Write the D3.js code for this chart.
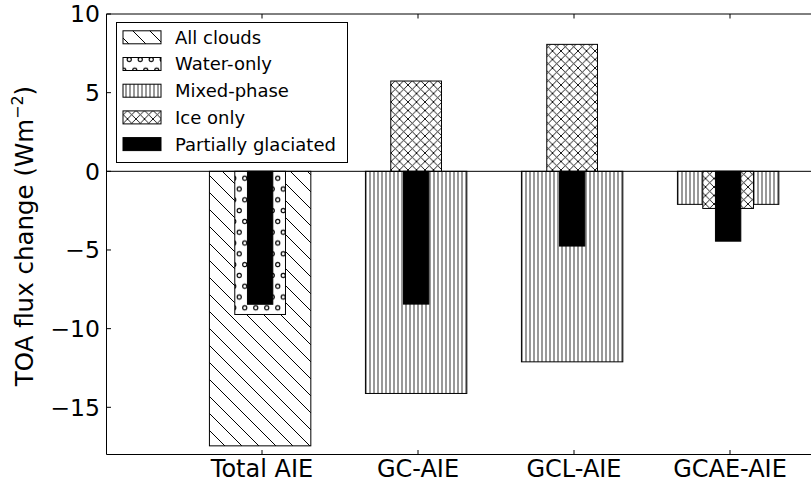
<!DOCTYPE html>
<html>
<head>
<meta charset="utf-8">
<script src="https://cdn.jsdelivr.net/npm/d3@7"></script>
<style>
  html, body { margin: 0; padding: 0; background: #fff; overflow: hidden; }
  svg { display: block; font-family: "DejaVu Sans", sans-serif; }
</style>
</head>
<body>
<svg id="chart" width="811" height="488"></svg>
<script>
// ---- data ----
const categories = ["Total AIE", "GC-AIE", "GCL-AIE", "GCAE-AIE"];
const allClouds = [-17.45, null, null, null];
const waterOnly = [-9.1, null, null, null];
const mixedPhase = [null, -14.12, -12.11, -2.1];
const iceOnly = [null, 5.74, 8.07, -2.36];
const partiallyGlaciated = [-8.45, -8.44, -4.75, -4.44];
const yTicks = [-15, -10, -5, 0, 5, 10];
const legendLabels = ["All clouds", "Water-only", "Mixed-phase", "Ice only", "Partially glaciated"];

// ---- layout ----
const W = 811, H = 488;
const plotLeft = 106.5, plotTop = 14, plotBottom = 454.5;
const svg = d3.select("#chart");

const x = d3.scaleLinear().domain([0, 5]).range([106, 886]);
const y = d3.scaleLinear().domain([-18, 10]).range([plotBottom, plotTop]);

// ---- patterns ----
const defs = svg.append("defs");
// diagonal "\"
const pDiag = defs.append("pattern").attr("id", "pDiag").attr("patternUnits", "userSpaceOnUse")
  .attr("width", 17).attr("height", 17);
pDiag.append("rect").attr("width", 17).attr("height", 17).attr("fill", "#fff");
pDiag.append("path").attr("d", "M-4.25,12.75L4.25,21.25M0,0L17,17M12.75,-4.25L21.25,4.25")
  .attr("stroke", "#000").attr("stroke-width", 1);
// vertical lines
const pVert = defs.append("pattern").attr("id", "pVert").attr("patternUnits", "userSpaceOnUse")
  .attr("width", 4).attr("height", 10);
pVert.append("rect").attr("width", 4).attr("height", 10).attr("fill", "#fff");
pVert.append("path").attr("d", "M2,0V10").attr("stroke", "#333").attr("stroke-width", 1);
// cross hatch
const cs = 8.5;
const pCross = defs.append("pattern").attr("id", "pCross").attr("patternUnits", "userSpaceOnUse")
  .attr("width", cs).attr("height", cs);
pCross.append("rect").attr("width", cs).attr("height", cs).attr("fill", "#fff");
pCross.append("path").attr("d", `M0,0L${cs},${cs}M0,${cs}L${cs},0M${-cs/4},${cs*3/4}L${cs/4},${cs*5/4}M${cs*3/4},${-cs/4}L${cs*5/4},${cs/4}M${-cs/4},${cs/4}L${cs/4},${-cs/4}M${cs*3/4},${cs*5/4}L${cs*5/4},${cs*3/4}`)
  .attr("stroke", "#000").attr("stroke-width", 0.9);
// circles
const pCirc = defs.append("pattern").attr("id", "pCirc").attr("patternUnits", "userSpaceOnUse")
  .attr("width", 11).attr("height", 21.6);
pCirc.append("rect").attr("width", 11).attr("height", 21.6).attr("fill", "#fff");
[[2.75, 5.4], [8.25, 16.2]].forEach(([cx, cy]) => {
  pCirc.append("circle").attr("cx", cx).attr("cy", cy).attr("r", 2.1)
    .attr("fill", "none").attr("stroke", "#000").attr("stroke-width", 1.1);
});

// ---- series ----
const series = [
  { name: "All clouds", values: allClouds, width: 0.65, fill: "url(#pDiag)" },
  { name: "Mixed-phase", values: mixedPhase, width: 0.65, fill: "url(#pVert)" },
  { name: "Water-only", values: waterOnly, width: 0.325, fill: "url(#pCirc)" },
  { name: "Ice only", values: iceOnly, width: 0.325, fill: "url(#pCross)" },
  { name: "Partially glaciated", values: partiallyGlaciated, width: 0.1625, fill: "#000" }
];
const offset = -0.012;

const gBars = svg.append("g");
series.forEach(s => {
  const data = s.values.map((v, i) => ({ v, i })).filter(d => d.v !== null);
  gBars.selectAll(null).data(data).enter().append("rect")
    .attr("x", d => x(d.i + 1 + offset - s.width / 2))
    .attr("width", d => x(s.width) - x(0))
    .attr("y", d => y(Math.max(0, d.v)))
    .attr("height", d => Math.abs(y(d.v) - y(0)))
    .attr("fill", s.fill)
    .attr("stroke", "#000").attr("stroke-width", 1);
});

// zero line
svg.append("line").attr("x1", plotLeft).attr("x2", W).attr("y1", y(0)).attr("y2", y(0))
  .attr("stroke", "#000").attr("stroke-width", 1);

// ---- frame ----
svg.append("path").attr("d", `M${W + 5},${plotTop}H${plotLeft}V${plotBottom}H${W + 5}`)
  .attr("fill", "none").attr("stroke", "#000").attr("stroke-width", 1);

// ---- y axis ----
const gy = svg.append("g");
yTicks.forEach(t => {
  gy.append("line").attr("x1", plotLeft).attr("x2", plotLeft + 4.5).attr("y1", y(t)).attr("y2", y(t))
    .attr("stroke", "#000").attr("stroke-width", 1);
  gy.append("text").attr("x", 100).attr("y", y(t)).attr("dy", "0.36em")
    .attr("text-anchor", "end").attr("font-size", 23.5).attr("fill", "#000")
    .text(d3.format("")(t).replace("-", "\u2212"));
});

// ---- x axis ----
const gx = svg.append("g");
categories.forEach((c, i) => {
  const xp = x(i + 1);
  gx.append("line").attr("x1", xp).attr("x2", xp).attr("y1", plotBottom).attr("y2", plotBottom - 4.5)
    .attr("stroke", "#000").attr("stroke-width", 1);
  gx.append("line").attr("x1", xp).attr("x2", xp).attr("y1", plotTop).attr("y2", plotTop + 4.5)
    .attr("stroke", "#000").attr("stroke-width", 1);
  gx.append("text").attr("x", xp).attr("y", 477)
    .attr("text-anchor", "middle").attr("font-size", 24).attr("fill", "#000")
    .text(c);
});

// ---- y label ----
const yl = svg.append("text").attr("transform", "translate(33,236) rotate(-90)")
  .attr("text-anchor", "middle").attr("font-size", 24.5).attr("fill", "#000");
yl.append("tspan").text("TOA flux change (Wm");
yl.append("tspan").attr("font-size", 16).attr("dy", -10).text("\u22122");
yl.append("tspan").attr("dy", 10).text(")");

// ---- legend ----
const legendFills = ["url(#pDiag)", "url(#pCirc)", "url(#pVert)", "url(#pCross)", "#000"];
const lg = svg.append("g");
lg.append("rect").attr("x", 116.5).attr("y", 22.5).attr("width", 231).attr("height", 140)
  .attr("fill", "#fff").attr("stroke", "#000").attr("stroke-width", 1);
legendLabels.forEach((lab, i) => {
  const cy = 37.3 + i * 26.7;
  lg.append("rect").attr("x", 123).attr("y", cy - 6.5).attr("width", 38).attr("height", 13)
    .attr("fill", legendFills[i]).attr("stroke", "#000").attr("stroke-width", 1);
  lg.append("text").attr("x", 175).attr("y", cy).attr("dy", "0.36em")
    .attr("font-size", 18).attr("fill", "#000").text(lab);
});
</script>
</body>
</html>
